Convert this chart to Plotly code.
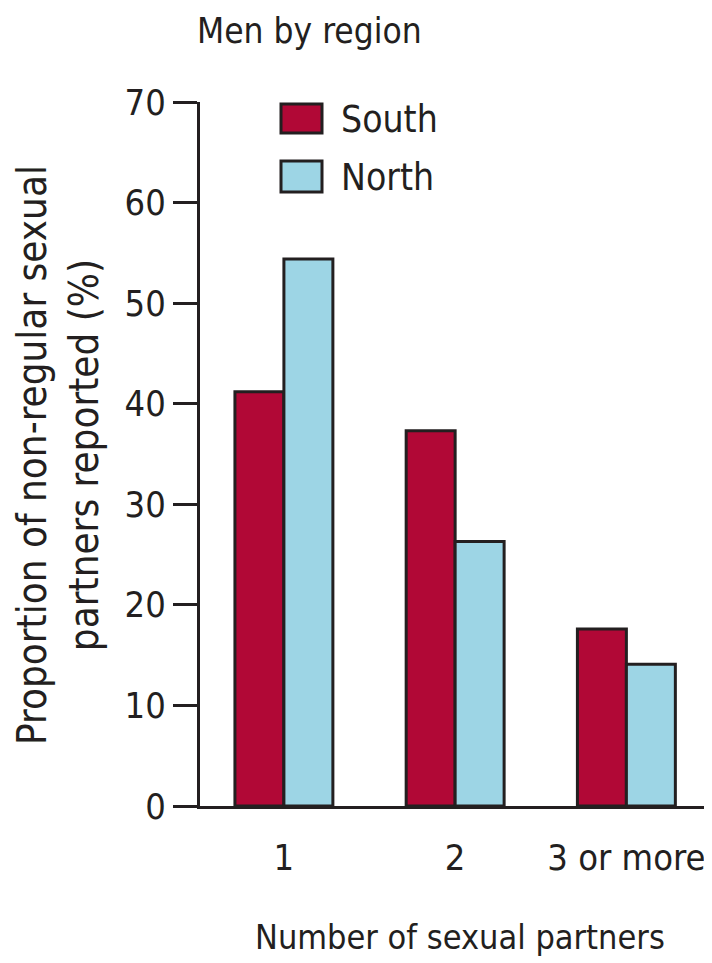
import plotly.graph_objects as go

categories = ["1", "2", "3 or more"]
south = [41.2, 37.3, 17.6]
north = [54.4, 26.3, 14.1]
y_ticks = [0, 10, 20, 30, 40, 50, 60, 70]

INK = "#231f20"
FONT = "DejaVu Sans Condensed, Liberation Sans Narrow, sans-serif"
SOUTH_C = "#b10836"
NORTH_C = "#9dd5e5"

# page body has an 8px margin; work in screenshot pixels and subtract it
OFF = 8
W, H = 712 - OFF, 963 - OFF
L, R, T, B = 200 - OFF, 0, 102 - OFF, 157
pw, ph = W - L - R, H - T - B

def px(x):
    return (x - OFF - L) / pw

def py(y):
    return (H - B - (y - OFF)) / ph

fig = go.Figure()
fig.add_trace(go.Bar(name="South", x=categories, y=south, marker=dict(color=SOUTH_C, line=dict(color=INK, width=3))))
fig.add_trace(go.Bar(name="North", x=categories, y=north, marker=dict(color=NORTH_C, line=dict(color=INK, width=3))))

shapes = [
    dict(type="rect", xref="paper", yref="paper", x0=px(281), x1=px(322), y0=py(133), y1=py(104),
         fillcolor=SOUTH_C, line=dict(color=INK, width=3)),
    dict(type="rect", xref="paper", yref="paper", x0=px(281), x1=px(322), y0=py(192), y1=py(161),
         fillcolor=NORTH_C, line=dict(color=INK, width=3)),
]

annotations = [
    dict(text="South", xref="paper", yref="paper", x=px(339), y=py(120), xanchor="left", yanchor="middle",
         showarrow=False, font=dict(family=FONT, size=37, color=INK)),
    dict(text="North", xref="paper", yref="paper", x=px(339), y=py(178), xanchor="left", yanchor="middle",
         showarrow=False, font=dict(family=FONT, size=37, color=INK)),
    dict(text="Men by region", xref="paper", yref="paper", x=px(195), y=py(31), xanchor="left", yanchor="middle",
         showarrow=False, font=dict(family=FONT, size=35, color=INK)),
    dict(text="Number of sexual partners", xref="paper", yref="paper", x=px(460), y=py(937), xanchor="center",
         yanchor="middle", showarrow=False, font=dict(family=FONT, size=34, color=INK)),
    dict(text="Proportion of non-regular sexual<br>partners reported (%)", xref="paper", yref="paper",
         x=px(58), y=py(455), xanchor="center", yanchor="middle", textangle=-90, showarrow=False,
         font=dict(family=FONT, size=40, color=INK)),
]

fig.update_layout(
    width=W, height=H,
    margin=dict(l=L, r=R, t=T, b=B),
    paper_bgcolor="white", plot_bgcolor="white",
    barmode="group", bargap=0.428, bargroupgap=0,
    showlegend=False,
    font=dict(family=FONT, color=INK),
    shapes=shapes, annotations=annotations,
    xaxis=dict(range=[-0.49, 2.5], showgrid=False, showline=True, linecolor=INK, linewidth=3,
               ticks="", tickfont=dict(family=FONT, size=36, color=INK), ticklabelstandoff=18, fixedrange=True),
    yaxis=dict(range=[0, 70], tickvals=y_ticks, showgrid=False, zeroline=False, showline=True, linecolor=INK,
               linewidth=3, ticks="outside", ticklen=24, tickwidth=3, tickcolor=INK,
               tickfont=dict(family=FONT, size=36, color=INK), fixedrange=True),
)

fig.write_html("out.html")
